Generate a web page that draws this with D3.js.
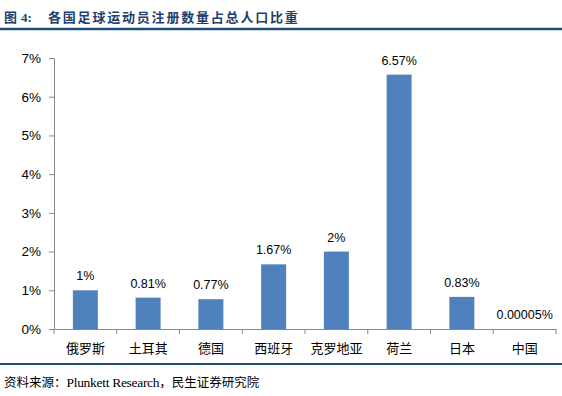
<!DOCTYPE html>
<html><head><meta charset="utf-8">
<script src="https://cdn.jsdelivr.net/npm/d3@7"></script>
<style>body{margin:0;background:#fff;} svg{display:block;}</style>
</head><body>
<svg id="c" width="562" height="396"></svg>
<script>
const categories = ["俄罗斯","土耳其","德国","西班牙","克罗地亚","荷兰","日本","中国"];
const values = [1, 0.81, 0.77, 1.67, 2, 6.57, 0.83, 0.00005];
const valueLabels = ["1%","0.81%","0.77%","1.67%","2%","6.57%","0.83%","0.00005%"];
const yTicks = [0,1,2,3,4,5,6,7];

(function(){
const svg = d3.select("#c");
const pl = 54, pr = 556, pt = 58, pb = 329;
const xb = d3.scaleBand().domain(categories).range([pl, pr]);
const y = d3.scaleLinear().domain([0,7]).range([pb, pt]);

// title
const tt = svg.append("text").attr("y", 22)
  .attr("font-family", "'Noto Sans CJK SC', sans-serif").attr("font-weight", "bold")
  .attr("font-size", 13).attr("fill", "#1F3F6E");
tt.append("tspan").attr("x", 4).text("图");
tt.append("tspan").attr("x", 21).attr("font-family", "'Liberation Serif', serif").text("4:");
tt.append("tspan").attr("x", 48).attr("letter-spacing", 1.8).text("各国足球运动员注册数量占总人口比重");
svg.append("line").attr("x1", 0).attr("x2", 562).attr("y1", 29).attr("y2", 29)
  .attr("stroke", "#1F4E79").attr("stroke-width", 2.5);

// y axis
const ya = svg.append("g").attr("transform", `translate(${pl},0)`)
  .call(d3.axisLeft(y).tickValues(yTicks).tickFormat(d => d + "%").tickSize(5).tickSizeOuter(0));
ya.select(".domain").attr("stroke", "#888");
ya.selectAll(".tick line").attr("stroke", "#888");
ya.selectAll(".tick text").attr("font-family", "'Liberation Sans', Arial, sans-serif").attr("font-size", 13.5).attr("fill", "#000").attr("x", -13);

// x axis
const xa = svg.append("g").attr("transform", `translate(0,${pb})`)
  .call(d3.axisBottom(xb).tickSize(0).tickSizeOuter(0));
xa.select(".domain").attr("stroke", "#888");
xa.selectAll(".tick text").attr("font-family", "'Noto Sans CJK SC', sans-serif").attr("font-size", 13).attr("fill", "#000").attr("y", 15).attr("dy", "0.71em");
const bounds = categories.map(c => xb(c)).concat([pr]);
svg.append("g").selectAll("line").data(bounds).join("line")
  .attr("x1", d => d).attr("x2", d => d).attr("y1", pb).attr("y2", pb + 5).attr("stroke", "#888");

// bars
svg.append("g").selectAll("rect").data(values).join("rect")
  .attr("x", (d,i) => xb(categories[i]) + xb.bandwidth()/2 - 12.5).attr("width", 25)
  .attr("y", d => y(d)).attr("height", d => pb - y(d)).attr("fill", "#4F81BD");

// labels
svg.append("g").selectAll("text").data(values).join("text")
  .attr("x", (d,i) => xb(categories[i]) + xb.bandwidth()/2)
  .attr("y", d => y(d) - 10).attr("text-anchor", "middle")
  .attr("font-family", "'Liberation Sans', Arial, sans-serif").attr("font-size", 12.5).attr("fill", "#000")
  .text((d,i) => valueLabels[i]);

// bottom line + source
svg.append("line").attr("x1", 0).attr("x2", 562).attr("y1", 364).attr("y2", 364)
  .attr("stroke", "#1F4E79").attr("stroke-width", 2);
const st = svg.append("text").attr("x", 4).attr("y", 387)
  .attr("font-family", "'Noto Sans CJK SC', sans-serif").attr("font-size", 12.5).attr("fill", "#000");
st.append("tspan").text("资料来源：");
st.append("tspan").attr("font-family", "'Liberation Serif', serif").attr("font-size", 13.5).attr("letter-spacing", -0.3).text("Plunkett Research");
st.append("tspan").text("，民生证券研究院");
})();
</script>
</body></html>
